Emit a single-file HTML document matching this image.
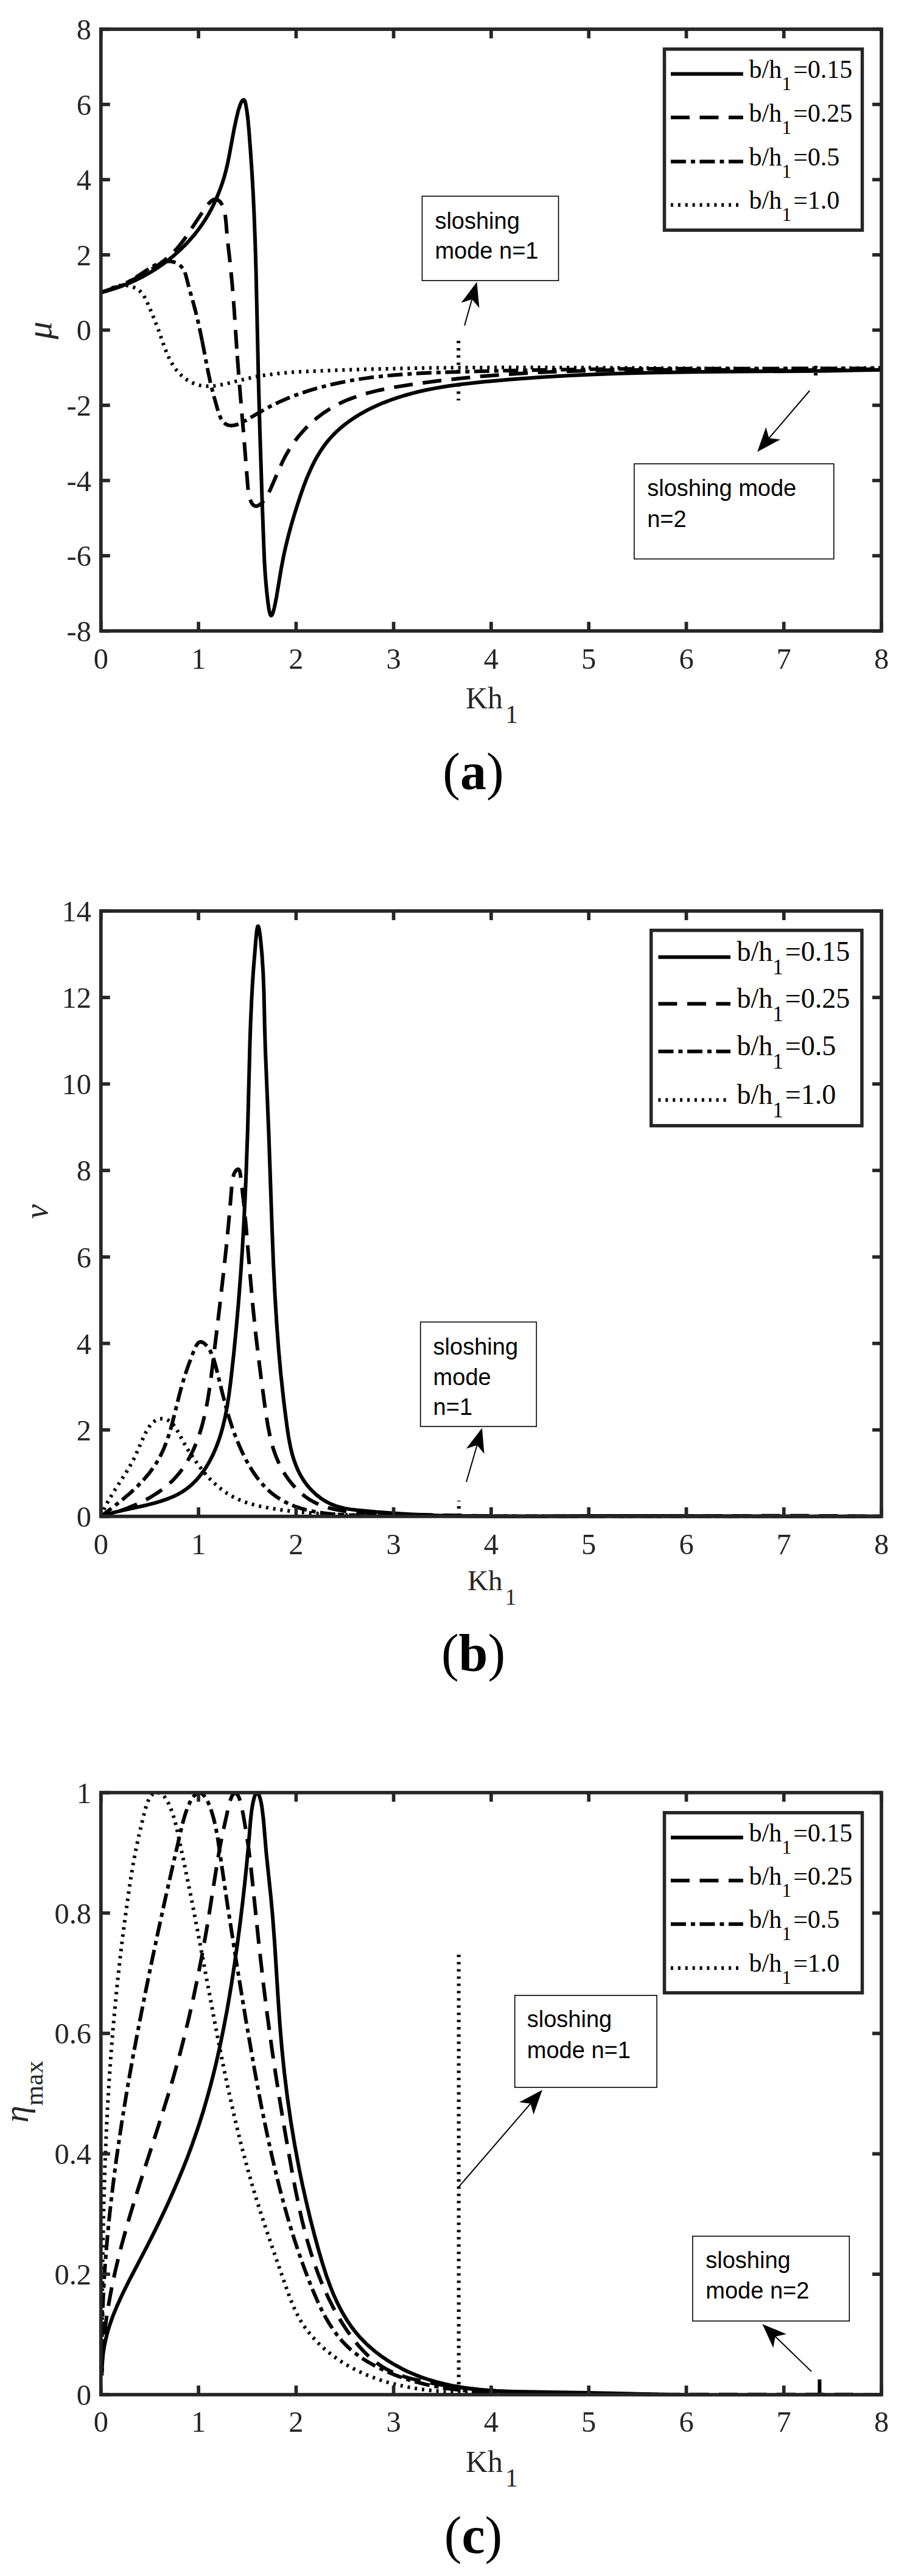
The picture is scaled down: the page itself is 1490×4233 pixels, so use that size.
<!DOCTYPE html>
    <html><head><meta charset="utf-8"><title>Figure</title>
    <style>html,body{margin:0;padding:0;background:#fff;}svg{display:block;}</style></head>
    <body><svg width="1490" height="4233" viewBox="0 0 1490 4233">
    <defs><clipPath id="clipa"><rect x="162.8" y="45" width="1288.2" height="994.8"/></clipPath><clipPath id="clipb"><rect x="162.8" y="1494" width="1288.2" height="1000.8"/></clipPath><clipPath id="clipc"><rect x="162.8" y="2942.7" width="1288.2" height="995.3"/></clipPath></defs>
    <rect width="1490" height="4233" fill="#fff"/>
    <g clip-path="url(#clipa)"><path d="M173.3 479 L181.2 474.5 L185 472.8 L189.3 471.2 L192.8 470.2 L196.2 469.5 L199.5 469 L203.5 468.9 L207.3 469 L211.1 469.5 L214.8 470.4 L218.3 471.5 L222.2 473.2 L225.3 474.9 L228.1 477 L230.8 479.2 L233.5 482.1 L236.2 485.8 L238.8 490.4 L241.4 495.9 L254.6 527.1 L260 541.4 L269.3 568.1 L273.7 579.4 L276.5 585.8 L279.5 592 L282.5 597.4 L285.7 602.5 L290.5 609 L295.8 614.9 L301.7 620.2 L308.1 624.8 L314.9 628.6 L321.4 631.3 L328.1 633.2 L335.1 634.3 L340.9 634.6 L346.8 634.5 L353.5 633.9 L360.2 632.9 L373.3 630.2 L402.7 622.8 L418 619.5 L427.7 617.7 L438.1 616.1 L459.4 613.5 L481.4 611.6 L507.3 610.2 L556.5 608.2 L608.6 606.6 L657.3 605.5 L707.5 604.6 L760.6 604.1 L816.4 603.8 L931.8 603.9 L1160.7 605.4 L1257.4 605.8 L1358 605.5 L1448 604.4" fill="none" stroke="#000" stroke-width="6.0" stroke-linejoin="round" stroke-dasharray="4 7.9"/><path d="M753.2 560 L753.2 658" fill="none" stroke="#000" stroke-width="6.0" stroke-linejoin="round" stroke-dasharray="4 7.9"/><path d="M1340 601 L1340 617" fill="none" stroke="#000" stroke-width="6.0" stroke-linejoin="round" stroke-dasharray="4 7.9"/><path d="M165.8 480.6 L179.4 476.7 L188.4 473.8 L197.3 470.4 L204.8 467 L209.5 464.4 L218.2 459.1 L240.5 444.3 L248.1 439.5 L255.3 435.4 L262.3 432.2 L266.3 430.8 L269.7 430 L273 429.5 L276.2 429.3 L279.5 429.5 L283.3 430 L287 431.1 L289.9 432.3 L292.7 433.9 L294.8 435.4 L297.3 437.5 L299 439.5 L300.6 441.7 L302 444.1 L303.2 446.7 L304.6 450.2 L306.3 456.3 L311 474.5 L318.1 499.6 L322.2 515.2 L327.2 536.3 L332.1 560.2" fill="none" stroke="#000" stroke-width="6.0" stroke-linejoin="round" stroke-dasharray="25 8 7 7.5" stroke-dashoffset="32.02"/><path d="M332.1 560.2 L341.6 609.5 L345.8 629.4 L350.6 648.4 L357 671.1 L359.3 678.5 L361.3 683.9 L363.2 688 L365.4 691.6 L367.5 694.1 L369.7 696.2 L372.6 697.9 L375.7 698.9 L379 699.4 L383.1 699.1 L387.3 698.3 L391.7 696.8 L397 694.5 L405.2 690.1 L424.9 678.4 L441.6 669.1 L443.2 668 L452.2 663.6 L461.2 659.4 L472.4 654.6 L484.3 649.9 L496.3 645.6 L509.1 641.4 L524.1 637 L539.2 633.1 L555.2 629.5 L572 626.1 L589.7 623.1 L607.4 620.6 L626.1 618.4 L645.5 616.5 L665.8 614.9 L686.9 613.6 L710.3 612.5 L736.7 611.5 L826.6 609.1 L923 607.4 L1005.8 606.4 L1098.2 605.9 L1448 605.4" fill="none" stroke="#000" stroke-width="6.0" stroke-linejoin="round" stroke-dasharray="25 8 7 7.5" stroke-dashoffset="2.13"/><path d="M165.8 480.6 L182.3 474.8 L197.2 469 L211.1 463 L224.9 456.4 L237.6 449.7 L249 442.8 L260 435.5 L269.7 428.1 L277.5 421.5 L284.8 414.5 L291.7 407.2 L298.1 399.4 L303.6 392.1 L309.5 383.6 L327.2 356.7 L335.4 344.4 L340 338 L343.2 334.1 L347 330.3 L350.2 328.2 L352.1 327.6 L353.3 327.4 L355.2 327.5 L356.5 327.9 L359 329.3 L361.4 331.5 L363.6 334.2 L365.4 337.4 L366.9 340.9 L368.4 345.5 L369.4 350.4 L370.2 355.4 L371.2 364.7 L373.4 390.9 L378.4 435.4 L381.5 467.7 L384.6 506.9 L389.2 576.5" fill="none" stroke="#000" stroke-width="6.0" stroke-linejoin="round" stroke-dasharray="31 16.5" stroke-dashoffset="3.02"/><path d="M389.2 576.5 L393.1 628.6 L401.2 725 L406.8 795.9 L407.7 805.4 L408.6 811.3 L409.7 816.9 L411 820.9 L412.4 824.5 L414.1 827.5 L416 829.7 L418.1 831.2 L420.4 831.8 L422.1 831.6 L423.9 830.9 L425.8 829.9 L428.1 828.2 L430.3 826.2 L432.4 823.9 L436.5 818.5 L440.2 812.2 L444.1 804.3 L458.8 770.4 L463.9 759.2 L468.5 750.1 L473.5 741.4 L480.9 729.8 L484.9 724.2 L489.6 718.1 L493.9 712.9 L499 707.2 L503.5 702.4 L508.9 697.1 L514.5 692 L520.2 687.2 L526.1 682.6 L532.8 677.7 L539 673.7 L545.3 669.8 L551.7 666.2 L559.1 662.4 L565.8 659.3 L573.4 656.1 L588.1 650.7 L596.1 648.2 L605 645.6 L623.2 641.2 L635.2 638.7 L647.3 636.4 L678.2 631.5 L714.7 626.5 L752.2 622.2 L788.8 618.6 L826.4 615.6 L865.8 613 L906.2 611 L937.2 609.9 L969.1 609 L1002 608.3 L1037.8 607.9 L1112.1 607.6 L1260.7 608.2 L1322.8 608.2 L1388.7 607.6 L1448 606.2" fill="none" stroke="#000" stroke-width="6.0" stroke-linejoin="round" stroke-dasharray="31 16.5" stroke-dashoffset="39.20"/><path d="M165.8 480.6 L176.8 477.7 L188.8 474 L200.7 469.8 L212.4 465.1 L223.9 459.9 L235.2 454.2 L246.2 448 L255.8 442.1 L266.2 435 L276.3 427.5 L286 419.6 L294.4 412.1 L303.4 403.4 L311.1 395.2 L319.2 385.8 L326.1 377 L331.9 368.9 L336.7 361.7 L341.8 353.2 L346.7 344.5 L351.2 335.6 L355.4 326.5 L359.2 317.2 L362.8 307.8 L365.7 299.3 L368.3 290.8 L370.7 282.1 L373.2 272.1 L376.3 256.8 L384.8 211 L388.6 193.4 L391.3 182.1 L394.4 172.7 L396.1 168.7 L397.4 166.3 L398.7 164.7 L399.9 164 L401 164.2 L401.9 165.4 L402.7 167.5 L403.5 170.3 L405.4 181.1 L407.3 196 L409 214.5 L411.5 247.7 L413.9 283.5 L415.8 316.6 L417.4 350.8 L419.1 395.5 L420.6 445.7 L424.5 620.5 L426.9 708.1 L430.8 828.1 L433.4 898.7 L434.5 924.2 L435.5 940.8 L436.7 956.2 L438.2 972.3 L440.2 989.9 L441.6 1000.2 L442.8 1006.2 L444 1010.2 L444.6 1011 L445.2 1011.4 L445.8 1011.4 L446.4 1010.8 L447.1 1009.9 L448.1 1007.7 L449.4 1003.6 L451 997.1 L454.2 981.1 L461.7 936 L465.3 916.8 L467.9 904.4 L471.1 891 L474.4 877.8 L478.3 863.5 L483.1 847 L488.7 829.2 L494.2 812.5 L498.8 799.3 L503.3 787.4 L507.8 776.9 L512.5 766.5 L517 757.4 L521.9 748.7 L526.5 741.2 L531.4 734 L536.6 727 L542.2 720.3 L548.1 714 L554.3 707.9 L560.9 702.1 L567.7 696.6 L575.8 690.7 L584.2 685.1 L592.8 679.8 L601.7 674.9 L610.8 670.3 L620 666 L630.6 661.6 L641.2 657.5 L653.2 653.3 L664 650 L676.1 646.6 L688.2 643.5 L700.5 640.8 L714 638.1 L727.6 635.8 L742.4 633.5 L757.4 631.5 L793.5 627.5 L838.6 623.4 L886.1 619.9 L927.5 617.4 L970.2 615.4 L1015.4 613.8 L1064.5 612.5 L1107.3 611.7 L1153.8 611.1 L1356.4 609.4 L1404.1 608.6 L1448 607.7" fill="none" stroke="#000" stroke-width="6.0" stroke-linejoin="round"/></g>
<g stroke="#262626" stroke-width="5.7" fill="none"><line x1="165.8" y1="1036.8" x2="165.8" y2="1021.8"/><line x1="165.8" y1="48" x2="165.8" y2="63"/><line x1="326.1" y1="1036.8" x2="326.1" y2="1021.8"/><line x1="326.1" y1="48" x2="326.1" y2="63"/><line x1="486.4" y1="1036.8" x2="486.4" y2="1021.8"/><line x1="486.4" y1="48" x2="486.4" y2="63"/><line x1="646.6" y1="1036.8" x2="646.6" y2="1021.8"/><line x1="646.6" y1="48" x2="646.6" y2="63"/><line x1="806.9" y1="1036.8" x2="806.9" y2="1021.8"/><line x1="806.9" y1="48" x2="806.9" y2="63"/><line x1="967.2" y1="1036.8" x2="967.2" y2="1021.8"/><line x1="967.2" y1="48" x2="967.2" y2="63"/><line x1="1127.5" y1="1036.8" x2="1127.5" y2="1021.8"/><line x1="1127.5" y1="48" x2="1127.5" y2="63"/><line x1="1287.7" y1="1036.8" x2="1287.7" y2="1021.8"/><line x1="1287.7" y1="48" x2="1287.7" y2="63"/><line x1="1448" y1="1036.8" x2="1448" y2="1021.8"/><line x1="1448" y1="48" x2="1448" y2="63"/><line x1="165.8" y1="48" x2="180.8" y2="48"/><line x1="1448" y1="48" x2="1433" y2="48"/><line x1="165.8" y1="171.6" x2="180.8" y2="171.6"/><line x1="1448" y1="171.6" x2="1433" y2="171.6"/><line x1="165.8" y1="295.2" x2="180.8" y2="295.2"/><line x1="1448" y1="295.2" x2="1433" y2="295.2"/><line x1="165.8" y1="418.8" x2="180.8" y2="418.8"/><line x1="1448" y1="418.8" x2="1433" y2="418.8"/><line x1="165.8" y1="542.4" x2="180.8" y2="542.4"/><line x1="1448" y1="542.4" x2="1433" y2="542.4"/><line x1="165.8" y1="666" x2="180.8" y2="666"/><line x1="1448" y1="666" x2="1433" y2="666"/><line x1="165.8" y1="789.6" x2="180.8" y2="789.6"/><line x1="1448" y1="789.6" x2="1433" y2="789.6"/><line x1="165.8" y1="913.2" x2="180.8" y2="913.2"/><line x1="1448" y1="913.2" x2="1433" y2="913.2"/><line x1="165.8" y1="1036.8" x2="180.8" y2="1036.8"/><line x1="1448" y1="1036.8" x2="1433" y2="1036.8"/><rect x="165.8" y="48" width="1282.2" height="988.8"/></g><g font-family="Liberation Serif, serif" font-size="48.5" fill="#262626"><text x="165.8" y="1099" text-anchor="middle">0</text><text x="326.1" y="1099" text-anchor="middle">1</text><text x="486.4" y="1099" text-anchor="middle">2</text><text x="646.6" y="1099" text-anchor="middle">3</text><text x="806.9" y="1099" text-anchor="middle">4</text><text x="967.2" y="1099" text-anchor="middle">5</text><text x="1127.5" y="1099" text-anchor="middle">6</text><text x="1287.7" y="1099" text-anchor="middle">7</text><text x="1448" y="1099" text-anchor="middle">8</text><text x="150" y="65" text-anchor="end">8</text><text x="150" y="188.6" text-anchor="end">6</text><text x="150" y="312.2" text-anchor="end">4</text><text x="150" y="435.8" text-anchor="end">2</text><text x="150" y="559.4" text-anchor="end">0</text><text x="150" y="683" text-anchor="end">-2</text><text x="150" y="806.6" text-anchor="end">-4</text><text x="150" y="930.2" text-anchor="end">-6</text><text x="150" y="1053.8" text-anchor="end">-8</text></g><text x="765" y="1163.8" font-family="Liberation Serif, serif" font-size="50" fill="#262626">Kh<tspan font-size="42" dx="4" dy="24">1</tspan></text><text x="777.5" y="1296.7" text-anchor="middle" font-family="Liberation Serif, serif" font-size="86" fill="#000">(<tspan font-weight="bold">a</tspan>)</text>
<g clip-path="url(#clipb)"><path d="M165.8 2491.8 L168.7 2484.8 L172.1 2477.4 L175.7 2470.3 L179.8 2463 L187.6 2450 L207 2420 L212.1 2411.4 L216.8 2403.1 L220.3 2396.4 L223.6 2389.3 L236.3 2360.5 L240 2353.1 L243.2 2347.6 L245.6 2343.9 L248.2 2340.6 L250.8 2337.7 L253.7 2335.4 L256.6 2333.5 L259.8 2332.2 L262.5 2331.6 L266 2331.3 L268.9 2331.5 L271.2 2331.9 L273.5 2332.6 L275.7 2333.6 L277.8 2334.8 L280.4 2336.7 L282.3 2338.5 L284.6 2341 L287.6 2345 L290.9 2350.2 L302.1 2370.9 L309.3 2383.1 L317.6 2395.9 L326.3 2408 L335.3 2419.5 L344.8 2430.2 L349.8 2435.2 L354.4 2439.5 L359.1 2443.6 L364 2447.5 L373 2453.9 L382.5 2459.5 L392.5 2464.3 L403.7 2468.6 L416 2472.4 L429.4 2475.7 L443.8 2478.4 L461.3 2481.1 L478.1 2483.2 L495.5 2485 L512.9 2486.4 L531.6 2487.7 L551 2488.7 L571.1 2489.4 L618.4 2490.3 L746.6 2491.1 L899.9 2491.6 L1448 2491.7" fill="none" stroke="#000" stroke-width="6.0" stroke-linejoin="round" stroke-dasharray="4 7.9"/><path d="M753.8 2491 L753.8 2466" fill="none" stroke="#000" stroke-width="6.0" stroke-linejoin="round" stroke-dasharray="4 7.9"/><path d="M165.8 2491.8 L186.4 2476.1 L201.1 2464.3 L214.1 2453.2 L225.4 2442.6 L236 2431.5 L244.9 2421.1 L249.2 2415.3 L253 2410.1 L256.5 2404.7 L259.8 2399.2 L264.7 2390 L269.1 2380.4 L273.3 2369.7 L277.6 2357.2 L280.7 2346.9 L284 2334.8 L294.4 2293 L298.6 2277.4 L303.6 2260.6 L309.4 2243.8 L316.9 2223.8 L319.9 2216.2 L321.8 2212.3 L323.8 2208.9 L325.6 2206.8 L327.6 2205.4 L328.7 2205.1 L329.8 2205 L332.1 2205.5 L334.5 2206.8 L336.9 2208.8 L339.8 2211.8 L342.5 2215.2 L344.8 2219 L346.9 2223 L349.1 2228 L351.9 2235.8 L354.4 2244.7 L366.2 2292.7 L371.4 2312.7 L376.2 2329.1 L381.4 2345.2 L385 2355.4 L388.6 2364.9 L392.6 2374.4 L396.4 2383.1 L400.5 2391.7 L404.8 2400.1 L409 2407.6 L413.4 2414.9 L418 2422 L422.4 2428.1 L426.9 2433.9 L431.7 2439.5 L436.6 2444.7 L441.1 2449.1 L445.8 2453.2 L451.3 2457.5 L456.9 2461.4 L462.8 2465 L468.8 2468.3 L474.9 2471.3 L481.2 2474 L488.4 2476.7 L495 2478.8 L502.5 2480.9 L511.7 2483 L521.8 2485 L532.2 2486.5 L543.5 2487.8 L555 2488.7 L568.3 2489.5 L582.5 2490 L599.4 2490.2 L733.1 2491.1 L884.4 2491.6 L1448 2491.7" fill="none" stroke="#000" stroke-width="6.0" stroke-linejoin="round" stroke-dasharray="25 8 7 7.5" stroke-dashoffset="3.33"/><path d="M165.8 2491.8 L181.2 2487.7 L195.7 2483.2 L209.2 2478.3 L222.6 2472.8 L235.6 2466.6 L247.3 2460.3 L258.4 2453.3 L268.1 2446.4 L277.2 2438.9 L284.9 2431.6 L292.6 2423.1 L299.6 2414 L306 2404.4 L311.7 2394.4 L317.4 2383 L322.4 2371.2 L325.8 2362.1 L328.9 2352.8 L331.7 2343.4 L334.5 2332.7 L337 2321.8 L339.5 2309.7 L341.7 2297.5 L343.8 2284.1 L346.5 2265.1 L349.5 2241.7 L360.7 2148.3 L367.2 2091.4 L371 2056.2 L374.4 2022.2 L377.6 1987.1 L380.5 1952.1 L381.4 1943.3 L383 1934.1 L384 1930.2 L385 1927.6 L386.6 1924.8 L387.9 1923.1 L389.5 1921.8 L391 1921.2 L391.4 1921.3 L392.2 1921.8 L393.3 1923.3 L394.1 1925.7 L394.7 1928.7 L396.5 1942.3 L400.4 1976.4 L404.3 2016.8 L411.6 2103.6 L415.4 2146 L419.2 2183.9 L423.7 2222.7 L429.5 2269 L436.4 2319.9 L439.9 2341.6 L443.5 2359.8 L445.8 2369.4 L448.4 2378.8 L451.1 2387 L454.2 2395.2 L457.6 2403.2 L460.9 2410 L465.1 2417.7 L469.2 2424.3 L474.3 2431.6 L479.1 2437.7 L484.9 2444.4 L490.3 2449.8 L496 2454.9 L501.9 2459.6 L508 2463.8 L514.4 2467.5 L520 2470.4 L526.7 2473.3 L532.6 2475.4 L539.6 2477.6 L546.8 2479.5 L554.1 2481 L562.5 2482.5 L571.1 2483.6 L586.3 2485 L605.1 2486.1 L651.5 2487.8 L701.1 2489.3 L747.1 2490.3 L795.2 2491.1 L845.4 2491.6 L899.7 2492 L1003.8 2491.9 L1203.2 2491 L1285.9 2490.7 L1371.1 2491 L1448 2491.7" fill="none" stroke="#000" stroke-width="6.0" stroke-linejoin="round" stroke-dasharray="31 16.5" stroke-dashoffset="15.80"/><path d="M165.8 2491.8 L176.3 2488.3 L188.8 2484.8 L201.9 2481.8 L241.1 2473.2 L253.1 2470.2 L264.9 2466.7 L276.3 2462.7 L287.3 2458 L292.5 2455.4 L297.6 2452.5 L306 2446.9 L310.5 2443.4 L315.9 2438.7 L320 2434.7 L324.9 2429.4 L328.6 2424.9 L333 2419.2 L337.2 2413.1 L341.1 2406.9 L344.7 2400.5 L348.1 2393.9 L351.3 2387.1 L354.8 2378.9 L357.5 2371.9 L360.5 2363.5 L363.2 2354.9 L365.6 2346.4 L369.8 2329 L373.1 2311.5 L376.1 2292.4 L379.1 2268.8 L383.9 2225.7 L388.1 2182.7 L392 2138.1 L395.5 2091.9 L398.1 2053.2 L400.4 2013 L402.5 1971.3 L404.3 1929.7 L406.9 1855.4 L410.6 1711.4 L411.9 1675.4 L413.4 1642.2 L414.7 1617.8 L416.2 1595 L420.2 1545.4 L421.2 1534.9 L422.1 1527.6 L423 1523.1 L423.4 1522.2 L423.8 1521.9 L424.3 1522.1 L424.7 1523 L425.8 1527.2 L426.9 1534.1 L428 1542.7 L430.5 1570.2 L432.3 1598.8 L433.5 1628.3 L434.8 1686.6 L435.9 1724.7 L441.6 1865.2 L446.8 2015.8 L449.2 2078.2 L451.7 2128.6 L454.5 2174.6 L457.7 2217.6 L461.3 2257.7 L466.3 2303.8 L469.1 2326.2 L471.9 2347.1 L473.9 2360.5 L475.8 2370.8 L477.9 2381 L480.4 2391 L483.5 2400.8 L486.5 2409 L490 2417 L494 2424.8 L498.5 2432.3 L503.7 2439.5 L509.5 2446.4 L514.9 2451.8 L520.6 2457 L526.7 2461.7 L533.1 2465.9 L538.4 2468.9 L543.9 2471.6 L550.8 2474.3 L557.8 2476.5 L566.5 2478.6 L575.2 2480.1 L584.1 2481.3 L618.2 2484.6 L655.3 2487.3 L695.4 2489.4 L723.7 2490.4 L752 2491.1 L783.3 2491.6 L816.1 2491.9 L862.3 2491.8 L968.2 2491.1 L1027.8 2491 L1103.8 2491.1 L1321.3 2492.1 L1388.4 2492.1 L1448 2491.7" fill="none" stroke="#000" stroke-width="6.0" stroke-linejoin="round"/></g>
<g stroke="#262626" stroke-width="5.7" fill="none"><line x1="165.8" y1="2491.8" x2="165.8" y2="2476.8"/><line x1="165.8" y1="1497" x2="165.8" y2="1512"/><line x1="326.1" y1="2491.8" x2="326.1" y2="2476.8"/><line x1="326.1" y1="1497" x2="326.1" y2="1512"/><line x1="486.4" y1="2491.8" x2="486.4" y2="2476.8"/><line x1="486.4" y1="1497" x2="486.4" y2="1512"/><line x1="646.6" y1="2491.8" x2="646.6" y2="2476.8"/><line x1="646.6" y1="1497" x2="646.6" y2="1512"/><line x1="806.9" y1="2491.8" x2="806.9" y2="2476.8"/><line x1="806.9" y1="1497" x2="806.9" y2="1512"/><line x1="967.2" y1="2491.8" x2="967.2" y2="2476.8"/><line x1="967.2" y1="1497" x2="967.2" y2="1512"/><line x1="1127.5" y1="2491.8" x2="1127.5" y2="2476.8"/><line x1="1127.5" y1="1497" x2="1127.5" y2="1512"/><line x1="1287.7" y1="2491.8" x2="1287.7" y2="2476.8"/><line x1="1287.7" y1="1497" x2="1287.7" y2="1512"/><line x1="1448" y1="2491.8" x2="1448" y2="2476.8"/><line x1="1448" y1="1497" x2="1448" y2="1512"/><line x1="165.8" y1="2491.8" x2="180.8" y2="2491.8"/><line x1="1448" y1="2491.8" x2="1433" y2="2491.8"/><line x1="165.8" y1="2349.7" x2="180.8" y2="2349.7"/><line x1="1448" y1="2349.7" x2="1433" y2="2349.7"/><line x1="165.8" y1="2207.6" x2="180.8" y2="2207.6"/><line x1="1448" y1="2207.6" x2="1433" y2="2207.6"/><line x1="165.8" y1="2065.5" x2="180.8" y2="2065.5"/><line x1="1448" y1="2065.5" x2="1433" y2="2065.5"/><line x1="165.8" y1="1923.3" x2="180.8" y2="1923.3"/><line x1="1448" y1="1923.3" x2="1433" y2="1923.3"/><line x1="165.8" y1="1781.2" x2="180.8" y2="1781.2"/><line x1="1448" y1="1781.2" x2="1433" y2="1781.2"/><line x1="165.8" y1="1639.1" x2="180.8" y2="1639.1"/><line x1="1448" y1="1639.1" x2="1433" y2="1639.1"/><line x1="165.8" y1="1497" x2="180.8" y2="1497"/><line x1="1448" y1="1497" x2="1433" y2="1497"/><rect x="165.8" y="1497" width="1282.2" height="994.8"/></g><g font-family="Liberation Serif, serif" font-size="48.5" fill="#262626"><text x="165.8" y="2553.6" text-anchor="middle">0</text><text x="326.1" y="2553.6" text-anchor="middle">1</text><text x="486.4" y="2553.6" text-anchor="middle">2</text><text x="646.6" y="2553.6" text-anchor="middle">3</text><text x="806.9" y="2553.6" text-anchor="middle">4</text><text x="967.2" y="2553.6" text-anchor="middle">5</text><text x="1127.5" y="2553.6" text-anchor="middle">6</text><text x="1287.7" y="2553.6" text-anchor="middle">7</text><text x="1448" y="2553.6" text-anchor="middle">8</text><text x="150" y="2508.8" text-anchor="end">0</text><text x="150" y="2366.7" text-anchor="end">2</text><text x="150" y="2224.6" text-anchor="end">4</text><text x="150" y="2082.5" text-anchor="end">6</text><text x="150" y="1940.3" text-anchor="end">8</text><text x="150" y="1798.2" text-anchor="end">10</text><text x="150" y="1656.1" text-anchor="end">12</text><text x="150" y="1514" text-anchor="end">14</text></g><text x="768" y="2613.1" font-family="Liberation Serif, serif" font-size="47" fill="#262626">Kh<tspan font-size="38" dx="4" dy="24">1</tspan></text><text x="777.5" y="2744.8" text-anchor="middle" font-family="Liberation Serif, serif" font-size="86" fill="#000">(<tspan font-weight="bold">b</tspan>)</text>
<g clip-path="url(#clipc)"><path d="M167.7 3895.4 L167.9 3795 L168.7 3709.2 L170.2 3632.2 L172.4 3559.4 L175.3 3489.5 L177.1 3455.2 L179.1 3422.4 L181.3 3389.5 L183.7 3357.9 L186.5 3325 L189.4 3293.5 L192.9 3257.7 L196.8 3222.1 L201 3186.7 L205.4 3153 L210.2 3118.1 L214.7 3087.6 L218.6 3063.8 L222.9 3041 L227.9 3017.3 L234.6 2989.1 L238.9 2972.2 L241.9 2962.7 L243.6 2958.6 L245.4 2954.9 L247.4 2951.9 L248.8 2950.2 L251.1 2948.1 L253.5 2946.7 L256 2945.9 L258.6 2945.7 L261.2 2946.1 L262.9 2946.7 L264.6 2947.6 L267.1 2949.4 L268.8 2951 L271.2 2953.9 L275.1 2960 L277.2 2964.2 L279.3 2968.7 L283 2978.2 L286.5 2989.1 L289.3 2999.8 L292.3 3013.4 L303.2 3065.3 L315.4 3125 L325.8 3179.3 L355.1 3335.3 L364.5 3383.2 L373.3 3425.3 L384.5 3475.7 L390.1 3499.4 L395.9 3523 L401.7 3545.1 L407.7 3567.2 L413.5 3587.8 L419.6 3608.3 L426.8 3631.4 L435.1 3657.1 L455.9 3718 L474 3769.7 L479.2 3783.1 L484.3 3795 L489.4 3805.2 L494.2 3814 L499.6 3822.4 L506.3 3831.6 L512.7 3839.4 L520.4 3847.9 L528.7 3856 L537.4 3863.6 L546.5 3870.8 L555.9 3877.5 L565.6 3883.8 L575.5 3889.6 L585.6 3894.9 L597.1 3900.3 L607.4 3904.7 L619.3 3909.1 L631.2 3913.1 L643.4 3916.5 L655.7 3919.6 L668.1 3922.2 L682 3924.6 L696 3926.7 L710.2 3928.3 L725.9 3929.7 L740.2 3930.7 L754.6 3931.4 L770.5 3932 L789.4 3932.4 L933.7 3933.2 L1136.9 3935.7 L1209.2 3936.4 L1276.1 3936.7 L1336.3 3936.5 L1394.1 3936 L1448 3935" fill="none" stroke="#000" stroke-width="6.0" stroke-linejoin="round" stroke-dasharray="4 7.9"/><path d="M753.6 3930 L753.6 3205" fill="none" stroke="#000" stroke-width="6.0" stroke-linejoin="round" stroke-dasharray="4 7.9"/><path d="M1346.4 3935 L1346.4 3910" fill="none" stroke="#000" stroke-width="6.0" stroke-linejoin="round"/><path d="M167.4 3875.6 L167.5 3850.6 L167.9 3824 L168.6 3798.9 L169.7 3772.4 L171.1 3745.9 L172.9 3719.3 L175 3692.8 L177.5 3664.9 L180.3 3637 L183.4 3609.1 L187 3579.8 L190.8 3550.6 L195.2 3520.1 L199.8 3489.5 L204.9 3457.7 L210.2 3425.9 L218.3 3380.4 L227.4 3332.4 L237.3 3281.9 L248.4 3227.6 L259.9 3173.4 L272.2 3117.2 L285.8 3057.3 L298.7 3001.3 L302.2 2988.1 L305.4 2977.8 L308.6 2969.1 L312.2 2961.1 L314.2 2957.4 L316.4 2954.2 L318.6 2951.3 L320.2 2949.6 L322.7 2947.4 L324.4 2946.4 L326.2 2945.8 L327.9 2945.7 L329.6 2946.2 L331.4 2947.1 L333 2948.4 L334.7 2950.1 L336.2 2952.1 L338.4 2955.3 L340.4 2958.9 L342.3 2962.6 L345.6 2970.7 L348.8 2980.6 L351.9 2991.8 L354.7 3004.4 L356.6 3014.3 L358.2 3024.3 L373.4 3128.2 L388.4 3224.8 L404.1 3320.4 L418 3400.2 L423.8 3432 L429.6 3462.3 L435.5 3491.2 L441.3 3518.6 L447.1 3544.6 L453.2 3570.4 L459.2 3594.7 L465.2 3617.5 L471.5 3640.2 L478.2 3662.8 L484.9 3684 L492 3705.2 L499.5 3726.3 L507.4 3747.3 L515.4 3767 L522.2 3782.6 L528.2 3795.4 L534.8 3807.9 L541.2 3818.8 L547.3 3828.1 L553.8 3837.1 L560.9 3845.7 L568.5 3853.8 L575.6 3860.5 L583.1 3866.7 L592.3 3873.4 L601.8 3879.6 L612.9 3886 L624.2 3891.9 L635.7 3897.2 L647.2 3902.1 L660.3 3906.9 L672.1 3910.8 L685.4 3914.7 L698.8 3918 L712.3 3920.9 L726 3923.4 L741.1 3925.7 L756.3 3927.6 L771.5 3929 L786.9 3930.2 L802.3 3931.1 L819.2 3931.7 L839 3932.2 L864.4 3932.5 L935 3932.7 L981.2 3933.2 L1169 3936.1 L1235.7 3936.9 L1294.2 3937.2 L1348.9 3937 L1399.7 3936.2 L1448 3935" fill="none" stroke="#000" stroke-width="6.0" stroke-linejoin="round" stroke-dasharray="25 8 7 7.5" stroke-dashoffset="11.77"/><path d="M167.4 3903.3 L167.9 3883.4 L169.2 3862.3 L171 3841.2 L173.4 3820.3 L176.5 3798.2 L180.3 3776.2 L184.5 3754.2 L189.5 3731.1 L194.4 3710.7 L199.9 3689.1 L206.2 3666.2 L212.7 3643.3 L220 3619.2 L228.3 3592.5 L261.9 3488.3 L276.2 3442.7 L283.4 3418.5 L289.9 3395.5 L296.2 3372.5 L302.5 3348 L310.1 3316.6 L317.5 3283.8 L324.4 3250.9 L331.2 3216.6 L336.9 3185 L342.3 3153.4 L357.7 3055.5 L361.5 3034.4 L365.4 3014.3 L374.8 2971.7 L378 2959.1 L380.2 2953.1 L382.1 2949.6 L384 2947.5 L385 2946.9 L386 2946.7 L387 2946.8 L388.6 2947.6 L390.1 2949.2 L391.1 2950.6 L392.9 2954.5 L395.1 2961.2 L397.1 2969.5 L399.3 2980.6 L405 3013.9 L408.7 3039.3 L412 3066.3 L425.3 3194.6 L432 3254.1 L438.9 3310 L446.7 3366.8 L452.6 3406.8 L458.9 3446.7 L465.6 3488 L473 3530.7 L479.7 3568.1 L485.2 3597.2 L490.6 3623.5 L495.8 3646.9 L500.6 3666.1 L505.7 3685 L511 3702.5 L516.2 3718.5 L521.8 3734.3 L527.9 3749.9 L533.9 3764 L540.4 3777.9 L547.3 3791.7 L554.8 3805.1 L562.7 3818.4 L571.2 3831.3 L579.5 3842.8 L587.4 3852.7 L595.8 3862.1 L604.6 3870.9 L611.9 3877.3 L619.5 3883.2 L627.5 3888.7 L634.6 3893 L642 3896.8 L651 3900.7 L660.2 3904.1 L669.7 3907.1 L682.2 3910.3 L697.6 3913.8 L714.4 3917.1 L731.2 3920 L747.9 3922.4 L766 3924.7 L784.2 3926.5 L802.3 3928.1 L837.1 3930.2 L876.1 3931.8 L936.2 3933.2 L1004.9 3934.2 L1058.2 3934.6 L1118.7 3934.8 L1350.4 3934.7 L1448 3935" fill="none" stroke="#000" stroke-width="6.0" stroke-linejoin="round" stroke-dasharray="31 16.5" stroke-dashoffset="27.72"/><path d="M167.7 3899.4 L167.8 3887.8 L168.5 3876.4 L169.8 3865.1 L171.6 3854.1 L173.9 3843.2 L177 3831.1 L180.7 3819.2 L185.3 3806.2 L192.7 3788.2 L201.4 3769.2 L212.6 3746.7 L241.9 3690.7 L257 3660.6 L266.7 3640.4 L275.6 3621.4 L284.2 3602.3 L291.9 3584.4 L300 3565 L307.7 3545.6 L315 3526 L321.5 3507.5 L327.7 3489 L334 3469 L339.5 3450.2 L345.1 3429.9 L350 3410.9 L355 3390.5 L359.6 3370 L364 3349.4 L368.4 3327.4 L372.6 3305.3 L376.7 3281.8 L380.6 3258.3 L385.4 3226.6 L390.1 3193.5 L394.6 3159.1 L398.6 3126 L402 3095.5 L405 3066.1 L408.2 3032 L411.6 2991.2 L413.3 2975.5 L415.5 2962.4 L417.8 2953.3 L419.1 2949.7 L420 2947.9 L421.3 2946.1 L422.2 2945.7 L422.7 2945.7 L423.6 2946.4 L424.9 2948.3 L426.4 2952.2 L428.1 2958.1 L429.3 2963.6 L430.5 2971 L432.8 2989.8 L437.4 3044.7 L445 3117.5 L448 3150.2 L451.3 3194.5 L457 3286.2 L459.7 3325.8 L463.1 3366.4 L467.2 3406.7 L472.1 3446.7 L477.8 3486.4 L484.1 3524.6 L491.2 3562.7 L496.8 3590 L502.9 3617.2 L509.4 3644.6 L516.4 3672 L523.5 3698.1 L530 3720.1 L536.1 3739.2 L542.4 3756.6 L548.2 3771 L554.6 3785 L561.6 3798.6 L568.6 3810.5 L576.2 3821.9 L583.6 3831.8 L591.7 3841.1 L601.2 3850.9 L609.4 3858.3 L618.9 3866.2 L627.8 3872.8 L638.2 3879.8 L648.9 3886.2 L659.9 3892.2 L671.2 3897.7 L682.7 3902.6 L694.4 3907.1 L706.2 3911 L718.2 3914.5 L730.3 3917.5 L743.9 3920.4 L757.7 3922.8 L771.5 3924.8 L786.8 3926.5 L800.8 3927.7 L814.9 3928.7 L830.5 3929.4 L848.9 3930 L968.9 3931.9 L1151.9 3936.3 L1228 3937.6 L1287.8 3938.1 L1343.9 3937.8 L1396.4 3936.8 L1448 3935" fill="none" stroke="#000" stroke-width="6.0" stroke-linejoin="round"/></g>
<g stroke="#262626" stroke-width="5.7" fill="none"><line x1="165.8" y1="3935" x2="165.8" y2="3920"/><line x1="165.8" y1="2945.7" x2="165.8" y2="2960.7"/><line x1="326.1" y1="3935" x2="326.1" y2="3920"/><line x1="326.1" y1="2945.7" x2="326.1" y2="2960.7"/><line x1="486.4" y1="3935" x2="486.4" y2="3920"/><line x1="486.4" y1="2945.7" x2="486.4" y2="2960.7"/><line x1="646.6" y1="3935" x2="646.6" y2="3920"/><line x1="646.6" y1="2945.7" x2="646.6" y2="2960.7"/><line x1="806.9" y1="3935" x2="806.9" y2="3920"/><line x1="806.9" y1="2945.7" x2="806.9" y2="2960.7"/><line x1="967.2" y1="3935" x2="967.2" y2="3920"/><line x1="967.2" y1="2945.7" x2="967.2" y2="2960.7"/><line x1="1127.5" y1="3935" x2="1127.5" y2="3920"/><line x1="1127.5" y1="2945.7" x2="1127.5" y2="2960.7"/><line x1="1287.7" y1="3935" x2="1287.7" y2="3920"/><line x1="1287.7" y1="2945.7" x2="1287.7" y2="2960.7"/><line x1="1448" y1="3935" x2="1448" y2="3920"/><line x1="1448" y1="2945.7" x2="1448" y2="2960.7"/><line x1="165.8" y1="3935" x2="180.8" y2="3935"/><line x1="1448" y1="3935" x2="1433" y2="3935"/><line x1="165.8" y1="3737.1" x2="180.8" y2="3737.1"/><line x1="1448" y1="3737.1" x2="1433" y2="3737.1"/><line x1="165.8" y1="3539.3" x2="180.8" y2="3539.3"/><line x1="1448" y1="3539.3" x2="1433" y2="3539.3"/><line x1="165.8" y1="3341.4" x2="180.8" y2="3341.4"/><line x1="1448" y1="3341.4" x2="1433" y2="3341.4"/><line x1="165.8" y1="3143.6" x2="180.8" y2="3143.6"/><line x1="1448" y1="3143.6" x2="1433" y2="3143.6"/><line x1="165.8" y1="2945.7" x2="180.8" y2="2945.7"/><line x1="1448" y1="2945.7" x2="1433" y2="2945.7"/><rect x="165.8" y="2945.7" width="1282.2" height="989.3"/></g><g font-family="Liberation Serif, serif" font-size="48.5" fill="#262626"><text x="165.8" y="3995.8" text-anchor="middle">0</text><text x="326.1" y="3995.8" text-anchor="middle">1</text><text x="486.4" y="3995.8" text-anchor="middle">2</text><text x="646.6" y="3995.8" text-anchor="middle">3</text><text x="806.9" y="3995.8" text-anchor="middle">4</text><text x="967.2" y="3995.8" text-anchor="middle">5</text><text x="1127.5" y="3995.8" text-anchor="middle">6</text><text x="1287.7" y="3995.8" text-anchor="middle">7</text><text x="1448" y="3995.8" text-anchor="middle">8</text><text x="150" y="3952" text-anchor="end">0</text><text x="150" y="3754.1" text-anchor="end">0.2</text><text x="150" y="3556.3" text-anchor="end">0.4</text><text x="150" y="3358.4" text-anchor="end">0.6</text><text x="150" y="3160.6" text-anchor="end">0.8</text><text x="150" y="2962.7" text-anchor="end">1</text></g><text x="765" y="4061.7" font-family="Liberation Serif, serif" font-size="50" fill="#262626">Kh<tspan font-size="42" dx="4" dy="24">1</tspan></text><text x="777.5" y="4194.7" text-anchor="middle" font-family="Liberation Serif, serif" font-size="86" fill="#000">(<tspan font-weight="bold">c</tspan>)</text>
<text transform="translate(84,543) rotate(-90)" text-anchor="middle" font-family="Liberation Serif, serif" font-style="italic" font-size="58" fill="#262626">&#956;</text>
<text transform="translate(78,1991) rotate(-90)" text-anchor="middle" font-family="Liberation Serif, serif" font-style="italic" font-size="54" fill="#262626">&#957;</text>
<text transform="translate(46,3437) rotate(-90)" text-anchor="middle" font-family="Liberation Serif, serif" font-size="56" fill="#262626"><tspan font-style="italic">&#951;</tspan><tspan font-size="43" dy="24">max</tspan></text>
<rect x="1091.5" y="80.7" width="325" height="297.5" fill="#fff" stroke="#262626" stroke-width="5.5"/><line x1="1101.9" y1="121.5" x2="1220.8" y2="121.5" stroke="#000" stroke-width="6.0"/><text x="1230.5" y="128" font-family="Liberation Serif, serif" font-size="42" fill="#000">b/h<tspan font-size="32" dy="20">1</tspan><tspan dx="3" dy="-20">=0.15</tspan></text><line x1="1101.9" y1="193" x2="1220.8" y2="193" stroke="#000" stroke-width="6.0" stroke-dasharray="31 16.5"/><text x="1230.5" y="199.5" font-family="Liberation Serif, serif" font-size="42" fill="#000">b/h<tspan font-size="32" dy="20">1</tspan><tspan dx="3" dy="-20">=0.25</tspan></text><line x1="1101.9" y1="265.6" x2="1220.8" y2="265.6" stroke="#000" stroke-width="6.0" stroke-dasharray="25 8 7 7.5"/><text x="1230.5" y="272.1" font-family="Liberation Serif, serif" font-size="42" fill="#000">b/h<tspan font-size="32" dy="20">1</tspan><tspan dx="3" dy="-20">=0.5</tspan></text><line x1="1101.9" y1="336.7" x2="1220.8" y2="336.7" stroke="#000" stroke-width="6.0" stroke-dasharray="4 7.9"/><text x="1230.5" y="343.2" font-family="Liberation Serif, serif" font-size="42" fill="#000">b/h<tspan font-size="32" dy="20">1</tspan><tspan dx="3" dy="-20">=1.0</tspan></text>
<rect x="1069.7" y="1528.8" width="346.2" height="321" fill="#fff" stroke="#262626" stroke-width="5.5"/><line x1="1081.4" y1="1572.8" x2="1200" y2="1572.8" stroke="#000" stroke-width="6.0"/><text x="1210.5" y="1579.3" font-family="Liberation Serif, serif" font-size="46" fill="#000">b/h<tspan font-size="35" dy="22">1</tspan><tspan dx="3" dy="-22">=0.15</tspan></text><line x1="1081.4" y1="1649.5" x2="1200" y2="1649.5" stroke="#000" stroke-width="6.0" stroke-dasharray="31 16.5"/><text x="1210.5" y="1656" font-family="Liberation Serif, serif" font-size="46" fill="#000">b/h<tspan font-size="35" dy="22">1</tspan><tspan dx="3" dy="-22">=0.25</tspan></text><line x1="1081.4" y1="1727.8" x2="1200" y2="1727.8" stroke="#000" stroke-width="6.0" stroke-dasharray="25 8 7 7.5"/><text x="1210.5" y="1734.3" font-family="Liberation Serif, serif" font-size="46" fill="#000">b/h<tspan font-size="35" dy="22">1</tspan><tspan dx="3" dy="-22">=0.5</tspan></text><line x1="1081.4" y1="1807.4" x2="1200" y2="1807.4" stroke="#000" stroke-width="6.0" stroke-dasharray="4 7.9"/><text x="1210.5" y="1813.9" font-family="Liberation Serif, serif" font-size="46" fill="#000">b/h<tspan font-size="35" dy="22">1</tspan><tspan dx="3" dy="-22">=1.0</tspan></text>
<rect x="1091.5" y="2978.7" width="325" height="296" fill="#fff" stroke="#262626" stroke-width="5.5"/><line x1="1101.9" y1="3019.5" x2="1220.8" y2="3019.5" stroke="#000" stroke-width="6.0"/><text x="1230.5" y="3026" font-family="Liberation Serif, serif" font-size="42" fill="#000">b/h<tspan font-size="32" dy="20">1</tspan><tspan dx="3" dy="-20">=0.15</tspan></text><line x1="1101.9" y1="3090.2" x2="1220.8" y2="3090.2" stroke="#000" stroke-width="6.0" stroke-dasharray="31 16.5"/><text x="1230.5" y="3096.7" font-family="Liberation Serif, serif" font-size="42" fill="#000">b/h<tspan font-size="32" dy="20">1</tspan><tspan dx="3" dy="-20">=0.25</tspan></text><line x1="1101.9" y1="3161.7" x2="1220.8" y2="3161.7" stroke="#000" stroke-width="6.0" stroke-dasharray="25 8 7 7.5"/><text x="1230.5" y="3168.2" font-family="Liberation Serif, serif" font-size="42" fill="#000">b/h<tspan font-size="32" dy="20">1</tspan><tspan dx="3" dy="-20">=0.5</tspan></text><line x1="1101.9" y1="3233.9" x2="1220.8" y2="3233.9" stroke="#000" stroke-width="6.0" stroke-dasharray="4 7.9"/><text x="1230.5" y="3240.4" font-family="Liberation Serif, serif" font-size="42" fill="#000">b/h<tspan font-size="32" dy="20">1</tspan><tspan dx="3" dy="-20">=1.0</tspan></text>
<rect x="693.5" y="322.4" width="224" height="138.7" fill="#fff" stroke="#000" stroke-width="1.6"/><text x="714.4" y="376" font-family="Liberation Sans, Arial, sans-serif" font-size="38" fill="#000">sloshing</text><text x="714.4" y="425.3" font-family="Liberation Sans, Arial, sans-serif" font-size="38" fill="#000">mode n=1</text><line x1="763.1" y1="535" x2="775.3" y2="491.8" stroke="#000" stroke-width="2.0"/><polygon points="783.4,463.3 787.4,506 775.3,491.8 757.6,497.6" fill="#000"/>
<rect x="1041.8" y="762.2" width="328" height="156.3" fill="#fff" stroke="#000" stroke-width="1.6"/><text x="1063.2" y="814.6" font-family="Liberation Sans, Arial, sans-serif" font-size="38" fill="#000">sloshing mode</text><text x="1063.2" y="866.1" font-family="Liberation Sans, Arial, sans-serif" font-size="38" fill="#000">n=2</text><line x1="1330" y1="642" x2="1263.3" y2="720" stroke="#000" stroke-width="2.0"/><polygon points="1244.1,742.5 1258.3,702 1263.3,720 1281.9,722.2" fill="#000"/>
<rect x="690.7" y="2172.4" width="190.6" height="171.7" fill="#fff" stroke="#000" stroke-width="1.6"/><text x="711.6" y="2226" font-family="Liberation Sans, Arial, sans-serif" font-size="38" fill="#000">sloshing</text><text x="711.6" y="2275.7" font-family="Liberation Sans, Arial, sans-serif" font-size="38" fill="#000">mode</text><text x="711.6" y="2325.4" font-family="Liberation Sans, Arial, sans-serif" font-size="38" fill="#000">n=1</text><line x1="766.1" y1="2435.3" x2="783.7" y2="2374.8" stroke="#000" stroke-width="2.0"/><polygon points="791.9,2346.4 795.6,2389.1 783.7,2374.8 765.9,2380.5" fill="#000"/>
<rect x="845.7" y="3278.9" width="233.3" height="151.2" fill="#fff" stroke="#000" stroke-width="1.6"/><text x="865.8" y="3330.8" font-family="Liberation Sans, Arial, sans-serif" font-size="38" fill="#000">sloshing</text><text x="865.8" y="3381.9" font-family="Liberation Sans, Arial, sans-serif" font-size="38" fill="#000">mode n=1</text><line x1="752.7" y1="3594.7" x2="871.6" y2="3456.7" stroke="#000" stroke-width="2.0"/><polygon points="890.9,3434.3 876.5,3474.7 871.6,3456.7 853,3454.5" fill="#000"/>
<rect x="1137.8" y="3674.6" width="257.5" height="139.4" fill="#fff" stroke="#000" stroke-width="1.6"/><text x="1159.3" y="3726.5" font-family="Liberation Sans, Arial, sans-serif" font-size="38" fill="#000">sloshing</text><text x="1159.3" y="3776.9" font-family="Liberation Sans, Arial, sans-serif" font-size="38" fill="#000">mode n=2</text><line x1="1332.9" y1="3896.9" x2="1273.7" y2="3839.5" stroke="#000" stroke-width="2.0"/><polygon points="1252.4,3818.9 1291.9,3835.6 1273.7,3839.5 1270.3,3857.9" fill="#000"/>
    </svg></body></html>
